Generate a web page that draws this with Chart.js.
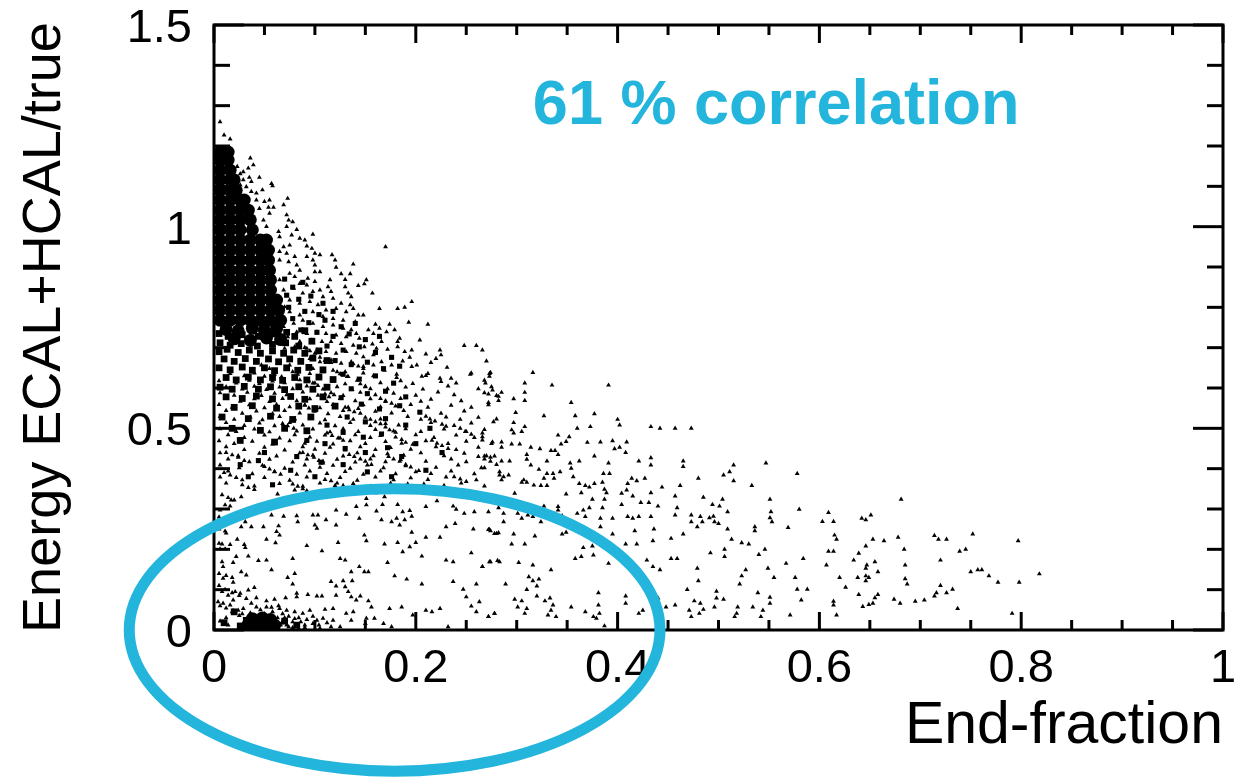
<!DOCTYPE html>
<html>
<head>
<meta charset="utf-8">
<title>End-fraction correlation</title>
<script src="https://cdn.jsdelivr.net/npm/chart.js@4"></script>
<style>
  html, body { margin: 0; padding: 0; background: #fff; }
  canvas { display: block; }
</style>
</head>
<body>
<canvas id="myChart" width="1236" height="778"></canvas>
<script>
var xTickLabels = ['0', '0.2', '0.4', '0.6', '0.8', '1'];
var yTickLabels = ['0', '0.5', '1', '1.5'];
var xTitle = 'End-fraction';
var yTitle = 'Energy ECAL+HCAL/true';
var noteText = '61 % correlation';

// the solid part of the blob, too dense to read point by point
var corePoints = [
[.006,1.185],[.014,1.185],[.006,1.165],[.014,1.165],[.006,1.14],[.016,1.14],[.006,1.116],[.016,1.116],[.02,1.116],
[.006,1.09],[.016,1.09],[.022,1.09],[.006,1.066],[.016,1.066],[.026,1.066],[.03,1.066],
[.006,1.041],[.016,1.041],[.026,1.041],[.034,1.041],[.006,1.017],[.016,1.017],[.026,1.017],[.036,1.017],
[.006,.992],[.016,.992],[.026,.992],[.038,.992],[.006,.967],[.016,.967],[.026,.967],[.036,.967],[.046,.967],[.052,.967],
[.006,.942],[.016,.942],[.026,.942],[.036,.942],[.046,.942],[.054,.942],[.006,.917],[.016,.917],[.026,.917],[.036,.917],[.046,.917],[.054,.917],
[.006,.892],[.016,.892],[.026,.892],[.036,.892],[.046,.892],[.055,.892],[.006,.868],[.016,.868],[.026,.868],[.036,.868],[.046,.868],[.056,.868],
[.006,.843],[.016,.843],[.026,.843],[.036,.843],[.046,.843],[.056,.843],[.006,.818],[.016,.818],[.026,.818],[.036,.818],[.046,.818],[.056,.818],[.062,.818],
[.006,.793],[.016,.793],[.026,.793],[.036,.793],[.046,.793],[.056,.793],[.064,.793],[.006,.768],[.016,.768],[.026,.768],[.036,.768],[.046,.768],[.056,.768],[.066,.768],
[.012,.745],[.024,.742],[.038,.748],[.05,.743],[.062,.747],[.02,.722],[.036,.718],[.052,.724],[.066,.72],
[.034,.014],[.043,.012],[.052,.014],[.06,.012],[.038,.028],[.048,.03],[.056,.026]
];

// mottled band under the solid part
var packedPoints = [
[.005,.735],[.014,.728],[.028,.732],[.044,.728],[.058,.734],[.072,.738],[.08,.728],[.09,.742],
[.006,.712],[.016,.706],[.027,.71],[.043,.704],[.058,.708],[.071,.712],[.084,.704],[.097,.716],
[.005,.69],[.013,.696],[.024,.688],[.035,.694],[.046,.686],[.058,.692],[.069,.686],[.079,.694],[.09,.686],[.104,.692],
[.01,.672],[.02,.666],[.031,.673],[.042,.666],[.054,.672],[.064,.665],[.075,.672],[.086,.666],[.098,.674],[.112,.668],
[.005,.65],[.016,.645],[.028,.652],[.038,.644],[.05,.65],[.06,.643],[.072,.65],[.083,.644],[.094,.651],[.108,.645],
[.012,.626],[.022,.62],[.034,.627],[.046,.62],[.058,.626],[.068,.619],[.08,.626],[.092,.62],[.104,.627],[.118,.621],
[.006,.602],[.018,.597],[.03,.604],[.044,.597],[.056,.603],[.07,.596],[.084,.603],[.098,.597],[.112,.602],
[.012,.578],[.028,.574],[.042,.58],[.058,.573],[.076,.579],[.09,.572],[.108,.578],
[.02,.552],[.038,.556],[.062,.55],[.084,.555],[.1,.549],[.12,.555],
[.008,.528],[.034,.524],[.056,.53],[.078,.522],[.096,.528],
[.018,.5],[.046,.495],[.07,.5],[.092,.494],[.026,.47],[.06,.466],
[.032,.024],[.07,.022],[.082,.012],[.026,.01],[.01,.018],[.02,.045]
];

// darker patches to the right of the solid part
var loosePoints = [
[.07,.87],[.078,.85],[.088,.862],[.072,.83],[.084,.82],[.096,.828],[.108,.81],[.074,.8],[.09,.79],[.104,.782],[.118,.79],
[.078,.772],[.094,.762],[.11,.768],[.126,.752],[.14,.76],[.086,.744],[.102,.738],[.118,.728],[.134,.734],[.15,.72],[.164,.728],
[.112,.704],[.128,.694],[.144,.702],[.16,.688],[.176,.676],[.12,.668],[.136,.658],[.152,.664],[.168,.648],[.184,.654],
[.128,.634],[.144,.622],[.16,.63],[.178,.612],[.136,.598],[.152,.586],[.17,.592],[.19,.578],[.126,.576],[.146,.56],[.164,.548],
[.184,.556],[.204,.54],[.132,.528],[.15,.516],[.17,.524],[.19,.508],[.112,.508],[.128,.49],[.148,.478],[.166,.486],[.11,.462],
[.13,.45],[.15,.44],[.172,.452],[.092,.47],[.082,.43],[.106,.416],[.128,.41],[.152,.392],[.076,.396],[.1,.38],[.05,.44],[.044,.42],
[.214,.5],[.2,.462],[.186,.43],[.226,.44],[.21,.396],[.176,.38],[.058,.36],[.026,.41],[.034,.38]
];

// irregular clumps on top of the read-off points
var clumpPoints = [
[.11,.585],[.114,.578],[.119,.583],[.094,.618],[.098,.612],[.103,.606],[.13,.552],[.134,.546],[.139,.541],[.143,.549],
[.155,.522],[.16,.516],[.165,.511],[.17,.503],[.174,.496],[.18,.49],[.186,.472],[.19,.465],[.197,.46],[.145,.61],
[.15,.603],[.155,.598],[.122,.64],[.127,.633],[.132,.628],[.165,.574],[.17,.568],[.176,.562],[.18,.555],[.138,.66],
[.143,.654],[.148,.648],[.105,.676],[.11,.668],[.116,.663],[.09,.7],[.095,.692],[.1,.686],[.078,.64],[.083,.634],
[.09,.557],[.094,.55],[.099,.543],[.068,.512],[.073,.506],[.079,.5],[.112,.488],[.117,.482],[.123,.476],[.128,.47],
[.088,.44],[.093,.434],[.099,.428],[.104,.42],[.108,.414],[.134,.435],[.139,.43],[.145,.424],[.15,.418],[.156,.41],
[.173,.43],[.178,.424],[.184,.418],[.19,.41],[.195,.404],[.203,.395],[.216,.47],[.221,.463],[.226,.457],[.232,.45],
[.21,.53],[.214,.523],[.219,.518],[.226,.51],[.23,.505],[.244,.5],[.249,.492],[.255,.485],[.05,.405],[.055,.399],
[.06,.392],[.066,.386],[.028,.36],[.034,.353],[.04,.348],[.078,.362],[.083,.356],[.088,.35],[.116,.37],[.122,.364],
[.128,.358],[.148,.352],[.154,.346],[.16,.34],[.192,.362],[.197,.356],[.203,.35],[.238,.38],[.244,.374],[.25,.368],
[.262,.43],[.268,.424],[.274,.418],[.28,.41],[.012,.44],[.018,.434],[.024,.428],[.03,.42],[.01,.39],[.016,.384],
[.022,.378],[.008,.335],[.014,.328],[.02,.322],[.005,.28],[.011,.274],[.005,.25],[.012,.24],[.005,.215],[.016,.212],
[.03,.212],[.005,.14],[.012,.135],[.018,.13],[.005,.11],[.011,.1],[.018,.092],[.025,.085],[.032,.078],[.006,.06],
[.012,.054],[.019,.048],[.025,.036],[.006,.022],[.014,.012],[.068,.04],[.074,.034],[.08,.028],[.086,.02],[.092,.026],
[.098,.034],[.104,.012],[.112,.018],[.118,.024],[.058,.045],[.064,.06],[.046,.05],[.05,.04],[.036,.042],[.028,.04],
[.063,.03],[.067,.018],[.072,.012],[.078,.006],[.084,.004],[.09,.006]
];

var fringePoints = [
[.006,1.26],[.01,1.227],[.016,1.217],[.017,1.178],[.036,1.17],[.039,1.153],[.023,1.149],[.034,1.145],[.029,1.136],[.026,1.131],
[.045,1.122],[.035,1.122],[.029,1.116],[.037,1.112],[.057,1.107],[.058,1.101],[.026,1.103],[.032,1.099],[.037,1.087],[.048,1.091],
[.042,1.083],[.073,1.07],[.055,1.066],[.05,1.062],[.069,1.054],[.042,1.066],[.059,1.048],[.045,1.045],[.054,1.048],[.072,1.029],
[.074,1.016],[.078,1.012],[.055,1.033],[.049,1.016],[.072,1],[.052,1],[.082,.993],[.064,.988],[.077,.979],[.098,.981],
[.085,.971],[.09,.967],[.065,.975],[.069,.95],[.075,.954],[.092,.952],[.097,.946],[.1,.934],[.105,.93],[.117,.93],
[.17,.95],[.065,.938],[.072,.934],[.08,.926],[.092,.926],[.098,.917],[.12,.917],[.1,.905],[.121,.899],[.138,.907],
[.065,.917],[.074,.913],[.082,.905],[.085,.892],[.1,.888],[.105,.888],[.126,.883],[.135,.883],[.075,.884],[.065,.868],
[.08,.876],[.093,.872],[.1,.864],[.115,.868],[.13,.869],[.151,.868],[.149,.858],[.143,.854],[.13,.851],[.085,.859],
[.092,.855],[.113,.851],[.116,.839],[.157,.835],[.133,.835],[.136,.826],[.069,.843],[.079,.847],[.088,.835],[.098,.839],
[.105,.843],[.108,.826],[.118,.822],[.196,.814],[.189,.8],[.182,.797],[.164,.797],[.135,.806],[.138,.797],[.126,.81],
[.075,.818],[.085,.81],[.095,.814],[.103,.806],[.07,.801],[.111,.793],[.121,.797],[.131,.789],[.143,.781],[.148,.781],
[.075,.789],[.085,.781],[.098,.789],[.108,.777],[.118,.772],[.128,.768],[.14,.764],[.193,.763],[.212,.758],[.174,.758],
[.16,.758],[.164,.748],[.153,.744],[.171,.739],[.179,.744],[.158,.735],[.184,.723],[.204,.719],[.182,.715],[.166,.715],
[.157,.709],[.141,.735],[.136,.744],[.128,.748],[.118,.756],[.108,.752],[.098,.76],[.088,.768],[.079,.76],[.069,.752],
[.082,.739],[.092,.735],[.102,.739],[.111,.735],[.121,.731],[.131,.727],[.144,.723],[.073,.727],[.085,.715],[.097,.719],
[.107,.715],[.116,.715],[.126,.71],[.138,.706],[.149,.702],[.161,.698],[.172,.696],[.182,.702],[.248,.705],[.26,.705],
[.266,.694],[.224,.694],[.196,.694],[.189,.69],[.21,.684],[.225,.682],[.27,.667],[.22,.673],[.215,.663],[.187,.667],
[.194,.676],[.201,.657],[.196,.653],[.231,.651],[.212,.636],[.206,.629],[.254,.634],[.273,.636],[.235,.624],[.224,.624],
[.181,.626],[.176,.657],[.166,.665],[.158,.682],[.148,.677],[.141,.686],[.131,.69],[.121,.686],[.111,.69],[.102,.694],
[.092,.698],[.08,.702],[.07,.698],[.065,.71],[.095,.673],[.105,.665],[.116,.669],[.126,.661],[.136,.665],[.148,.653],
[.158,.657],[.169,.644],[.13,.64],[.118,.644],[.108,.64],[.098,.648],[.085,.669],[.075,.657],[.065,.661],[.055,.648],[.047,.657]
];

var midPoints = [
[.016,.636],[.03,.63],[.04,.637],[.05,.629],[.06,.634],[.067,.628],[.095,.636],[.105,.63],[.125,.635],[.133,.628],[.148,.637],[.158,.63],[.181,.634],[.21,.631],[.255,.637],[.273,.629],
[.005,.618],[.022,.612],[.035,.619],[.045,.611],[.058,.617],[.07,.613],[.085,.62],[.1,.612],[.118,.617],[.13,.61],[.142,.619],[.165,.613],[.185,.618],[.197,.611],[.225,.616],[.24,.612],[.268,.619],
[.012,.603],[.028,.597],[.04,.604],[.052,.596],[.065,.602],[.078,.598],[.092,.605],[.108,.597],[.122,.603],[.137,.596],[.15,.604],[.172,.598],[.19,.602],[.207,.597],[.232,.605],[.262,.598],[.275,.603],
[.006,.588],[.02,.582],[.033,.589],[.047,.581],[.06,.587],[.072,.583],[.088,.59],[.103,.582],[.116,.588],[.128,.581],[.145,.589],[.16,.583],[.178,.587],[.2,.582],[.222,.59],[.238,.583],[.268,.588],[.28,.581],
[.012,.574],[.026,.567],[.04,.573],[.055,.566],[.068,.574],[.082,.568],[.095,.573],[.112,.566],[.125,.574],[.14,.568],[.155,.573],[.17,.566],[.185,.574],[.205,.567],[.215,.572],[.245,.568],
[.005,.559],[.018,.552],[.035,.558],[.05,.551],[.062,.559],[.075,.553],[.09,.558],[.105,.551],[.118,.559],[.133,.552],[.148,.558],[.165,.553],[.195,.559],[.212,.552],[.235,.557],[.255,.552],[.272,.558],
[.012,.544],[.028,.537],[.042,.543],[.058,.536],[.07,.544],[.085,.538],[.1,.543],[.113,.536],[.128,.544],[.145,.537],[.16,.542],[.176,.538],[.188,.544],[.225,.537],[.248,.543],
[.006,.529],[.02,.522],[.036,.528],[.048,.521],[.065,.529],[.08,.523],[.095,.528],[.11,.521],[.125,.529],[.138,.522],[.15,.527],[.165,.523],[.192,.529],[.205,.522],[.23,.528],[.244,.522],[.262,.527],[.28,.523],
[.012,.514],[.03,.507],[.045,.513],[.06,.506],[.075,.514],[.088,.508],[.105,.513],[.12,.506],[.135,.514],[.155,.507],[.17,.512],[.183,.508],[.215,.514],[.238,.507],[.255,.513],
[.006,.499],[.022,.492],[.04,.498],[.055,.491],[.07,.499],[.082,.493],[.098,.498],[.115,.491],[.128,.499],[.143,.492],[.16,.497],[.178,.493],[.19,.499],[.205,.492],[.228,.498],[.25,.492],[.268,.497],
[.014,.484],[.03,.477],[.05,.483],[.065,.476],[.08,.484],[.095,.478],[.11,.483],[.125,.476],[.14,.484],[.155,.477],[.165,.482],[.18,.478],[.2,.484],[.218,.477],[.24,.483],[.258,.477],
[.005,.469],[.02,.462],[.038,.468],[.058,.461],[.075,.469],[.09,.463],[.102,.468],[.118,.461],[.135,.469],[.15,.462],[.17,.467],[.186,.463],[.21,.469],[.232,.462],[.25,.468],[.275,.462],
[.012,.454],[.03,.447],[.05,.453],[.07,.446],[.088,.454],[.1,.448],[.115,.453],[.13,.446],[.145,.454],[.16,.447],[.175,.452],[.195,.448],[.22,.454],[.24,.447],[.262,.453],
[.006,.439],[.024,.432],[.045,.438],[.062,.431],[.085,.439],[.098,.433],[.11,.438],[.128,.431],[.142,.439],[.158,.432],[.172,.437],[.188,.433],[.205,.439],[.228,.432],[.248,.438],[.27,.432],
[.014,.424],[.035,.417],[.055,.423],[.078,.416],[.092,.424],[.108,.418],[.122,.423],[.14,.416],[.155,.424],[.17,.417],[.185,.422],[.21,.418],[.235,.424],[.25,.417],
[.006,.409],[.025,.402],[.048,.408],[.07,.401],[.09,.409],[.105,.403],[.118,.408],[.135,.401],[.152,.409],[.168,.402],[.19,.407],[.22,.403],[.242,.409],[.265,.402],
[.014,.394],[.038,.387],[.06,.393],[.082,.386],[.095,.394],[.112,.388],[.13,.393],[.148,.386],[.165,.394],[.18,.387],[.2,.392],[.215,.388],[.235,.394],[.258,.387],
[.006,.379],[.028,.372],[.05,.378],[.075,.371],[.092,.379],[.11,.373],[.125,.378],[.142,.371],[.16,.379],[.178,.372],[.195,.377],[.212,.373],[.23,.379],[.26,.372],
[.012,.364],[.04,.357],[.065,.363],[.088,.356],[.105,.364],[.12,.358],[.138,.363],[.155,.356],[.175,.364],[.19,.357],[.208,.362],[.228,.358],[.245,.364],[.268,.357],
[.08,.347],[.092,.345],[.063,.337],[.027,.33],[.017,.322],[.151,.326],[.169,.33],[.141,.306],[.151,.31],[.167,.311],
[.182,.311],[.21,.306],[.221,.32],[.237,.307],[.248,.289],[.258,.293],[.24,.299],[.28,.322],[.011,.31],[.016,.307],
[.006,.297],[.057,.285],[.069,.282],[.082,.283],[.098,.285],[.103,.285],[.121,.297],[.131,.287],[.144,.277],[.161,.295],
[.187,.293],[.194,.296],[.181,.277],[.196,.282],[.184,.26],[.189,.273],[.166,.273],[.176,.268],[.031,.268],[.037,.256],
[.049,.256],[.064,.258],[.083,.268],[.1,.26],[.102,.252],[.111,.273],[.121,.26],[.027,.256],[.011,.245],[.062,.244],
[.065,.235],[.149,.235],[.151,.221],[.196,.242],[.21,.23],[.224,.23],[.23,.256],[.239,.264],[.257,.25],[.273,.249],
[.28,.239],[.023,.225],[.052,.225],[.061,.216],[.008,.213],[.031,.204],[.092,.209],[.123,.217],[.169,.213],[.182,.217],
[.2,.217],[.194,.206],[.187,.194],[.107,.196],[.006,.201],[.011,.201],[.022,.182],[.034,.183],[.044,.172],[.052,.173],
[.078,.177],[.125,.177],[.13,.173],[.172,.167],[.206,.183],[.23,.173],[.237,.169],[.255,.191],[.273,.169],[.281,.172],
[.266,.157],[.008,.169],[.009,.157],[.019,.167],[.027,.144],[.032,.136],[.057,.149],[.08,.14],[.073,.13],[.136,.144],
[.144,.157],[.149,.144],[.153,.144],[.179,.134],[.191,.126],[.009,.128],[.019,.118],[.078,.114],[.116,.12],[.128,.122],
[.121,.109],[.13,.107],[.137,.122],[.206,.114],[.237,.12],[.247,.101],[.26,.114],[.133,.095],[.136,.082],[.145,.084],
[.04,.105],[.042,.08],[.034,.099],[.026,.091],[.014,.086],[.008,.095],[.021,.095],[.082,.091],[.093,.088],[.102,.084],
[.107,.084],[.121,.086],[.06,.076],[.071,.08],[.052,.072],[.082,.082],[.25,.082],[.141,.074],[.153,.072],[.156,.057],
[.174,.053],[.186,.057],[.21,.049],[.216,.045],[.224,.053],[.255,.059],[.26,.045],[.263,.07],[.272,.033],[.278,.041],
[.004,.07],[.009,.066],[.016,.062],[.019,.074],[.024,.049],[.029,.053],[.037,.066],[.042,.057],[.052,.057],[.057,.056],
[.065,.053],[.072,.049],[.08,.045],[.088,.041],[.095,.049],[.11,.051],[.118,.053],[.131,.041],[.138,.045],[.151,.029],
[.159,.029],[.168,.016],[.176,.008],[.15,.016],[.197,.037],[.232,.008],[.136,.024],[.116,.008],[.108,.029],[.102,.024],
[.098,.016],[.105,.004],[.125,.008],[.07,.03],[.078,.02],[.084,.03],[.09,.012],[.066,.012],[.074,.008],[.012,.03],[.018,.045]
];

var tailPoints = [
[.274,.638],[.316,.638],[.269,.612],[.308,.612],[.335,.607],[.391,.607],[.276,.595],[.272,.585],[.285,.589],[.308,.589],
[.282,.579],[.282,.569],[.272,.564],[.297,.573],[.308,.569],[.354,.564],[.299,.539],[.327,.531],[.358,.531],[.377,.536],
[.277,.516],[.297,.514],[.4,.522],[.402,.508],[.308,.504],[.295,.496],[.305,.492],[.297,.488],[.36,.5],[.373,.504],
[.433,.504],[.442,.5],[.457,.5],[.473,.5],[.341,.483],[.352,.479],[.266,.488],[.266,.479],[.266,.471],[.276,.466],
[.285,.466],[.285,.453],[.295,.461],[.303,.461],[.344,.461],[.349,.467],[.37,.465],[.383,.466],[.395,.469],[.409,.466],
[.314,.453],[.323,.449],[.334,.445],[.338,.445],[.341,.435],[.397,.449],[.402,.453],[.408,.44],[.268,.431],[.274,.428],
[.278,.431],[.31,.435],[.31,.423],[.285,.419],[.293,.419],[.33,.419],[.353,.414],[.362,.419],[.377,.431],[.391,.414],
[.421,.419],[.433,.427],[.433,.409],[.465,.419],[.465,.405],[.515,.409],[.547,.414],[.268,.402],[.314,.409],[.354,.401],
[.322,.398],[.283,.392],[.283,.384],[.292,.384],[.287,.38],[.285,.372],[.33,.388],[.336,.388],[.343,.392],[.386,.388],
[.392,.388],[.511,.392],[.505,.384],[.327,.376],[.337,.376],[.356,.38],[.305,.366],[.31,.366],[.307,.372],[.317,.359],
[.324,.358],[.33,.358],[.362,.363],[.368,.358],[.372,.354],[.377,.363],[.385,.366],[.414,.376],[.419,.37],[.427,.376],
[.48,.376],[.515,.37],[.41,.363],[.444,.354],[.462,.358],[.533,.358],[.387,.349],[.389,.34],[.409,.347],[.404,.339],
[.298,.339],[.349,.337],[.364,.34],[.433,.34],[.415,.332],[.457,.332],[.485,.329],[.551,.324],[.504,.324],[.375,.324],
[.387,.324],[.423,.316],[.431,.316],[.404,.311],[.44,.307],[.459,.303],[.494,.311],[.501,.307],[.327,.307],[.341,.306],
[.341,.297],[.385,.303],[.372,.303],[.366,.297],[.272,.293],[.287,.289],[.301,.289],[.282,.303],[.36,.289],[.509,.293],
[.552,.293],[.457,.285],[.473,.285],[.482,.281],[.491,.278],[.495,.282],[.41,.281],[.415,.277],[.421,.281],[.433,.281],
[.395,.277],[.383,.277],[.368,.281],[.345,.283],[.311,.285],[.316,.281],[.305,.277],[.473,.268],[.484,.268],[.496,.268],
[.5,.264],[.551,.278],[.553,.268],[.287,.268],[.324,.268],[.383,.256],[.479,.256],[.509,.25],[.536,.256],[.536,.246],
[.272,.249],[.274,.246],[.282,.241],[.278,.239],[.297,.238],[.318,.233],[.345,.238],[.349,.242],[.395,.238],[.417,.246],
[.436,.25],[.465,.238],[.453,.227],[.513,.225],[.523,.216],[.53,.213],[.435,.221],[.408,.213],[.419,.213],[.295,.213],
[.308,.213],[.366,.204],[.375,.208],[.506,.2],[.546,.2],[.492,.191],[.54,.187],[.506,.182],[.376,.186],[.358,.177],
[.364,.182],[.453,.177],[.459,.177],[.429,.173],[.274,.169],[.283,.169],[.302,.167],[.316,.161],[.266,.157],[.391,.165],
[.435,.157],[.442,.149],[.479,.153],[.334,.149],[.527,.149],[.549,.153],[.523,.134],[.555,.13],[.312,.132],[.316,.122],
[.322,.126],[.289,.114],[.48,.122],[.521,.114],[.32,.109],[.31,.1],[.469,.1],[.381,.092],[.498,.096],[.539,.092],
[.32,.084],[.408,.084],[.498,.079],[.505,.076],[.551,.081],[.298,.076],[.305,.072],[.333,.079],[.328,.072],[.476,.072],
[.482,.066],[.551,.066],[.381,.062],[.408,.066],[.44,.079],[.301,.057],[.336,.062],[.354,.057],[.457,.062],[.448,.057],
[.496,.057],[.519,.057],[.534,.057],[.31,.053],[.334,.049],[.425,.049],[.471,.049],[.485,.051],[.544,.049],[.368,.045],
[.382,.041],[.421,.041],[.481,.041],[.308,.041],[.331,.037],[.278,.041],[.272,.033],[.339,.033],[.376,.033],[.379,.029],
[.473,.033],[.518,.041],[.516,.033],[.542,.033],[.387,.01],
[.578,.388],[.681,.324],[.58,.299],[.609,.291],[.603,.269],[.614,.269],[.642,.277],[.646,.273],[.651,.285],[.569,.254],
[.615,.235],[.617,.225],[.653,.225],[.664,.221],[.678,.23],[.646,.208],[.684,.2],[.714,.234],[.718,.225],[.726,.225],
[.752,.238],[.797,.221],[.609,.195],[.614,.195],[.639,.19],[.739,.195],[.745,.2],[.584,.177],[.567,.165],[.607,.161],
[.634,.173],[.655,.169],[.647,.161],[.646,.153],[.685,.161],[.72,.173],[.658,.144],[.75,.144],[.757,.149],[.761,.149],
[.768,.134],[.818,.139],[.576,.13],[.62,.13],[.638,.13],[.646,.134],[.649,.13],[.646,.122],[.685,.127],[.687,.114],
[.777,.118],[.798,.118],[.626,.106],[.578,.101],[.588,.101],[.72,.11],[.732,.101],[.716,.092],[.714,.084],[.726,.092],
[.639,.088],[.658,.088],[.655,.08],[.582,.074],[.614,.071],[.614,.062],[.674,.076],[.68,.066],[.695,.071],[.704,.074],
[.653,.066],[.649,.063],[.643,.058],[.737,.053],[.571,.037],[.617,.037],[.791,.041]
];

function toXY(points) {
  return points.map(function (p) {
    return { x: p[0], y: p[1] };
  });
}

function scatterSet(points, style, radius) {
  return {
    data: toXY(points),
    pointStyle: style,
    pointRadius: radius,
    pointBorderWidth: 0,
    pointBackgroundColor: '#000',
    showLine: false
  };
}

function tickLine(ctx, x1, y1, x2, y2) {
  ctx.beginPath();
  ctx.moveTo(x1, y1);
  ctx.lineTo(x2, y2);
  ctx.stroke();
}

// frame with inward ticks on all four sides, like the original plot
var framePlugin = {
  id: 'frame',
  beforeDatasetsDraw: function (chart) {
    var ctx = chart.ctx;
    var a = chart.chartArea;
    ctx.save();
    ctx.strokeStyle = '#000';
    ctx.lineWidth = 3;
    ctx.strokeRect(a.left, a.top, a.right - a.left, a.bottom - a.top);
    chart.scales.x.ticks.forEach(function (t) {
      var px = chart.scales.x.getPixelForValue(t.value);
      var len = t.label ? 18 : 10;
      tickLine(ctx, px, a.bottom, px, a.bottom - len);
      tickLine(ctx, px, a.top, px, a.top + len);
    });
    chart.scales.y.ticks.forEach(function (t) {
      var py = chart.scales.y.getPixelForValue(t.value);
      var len = t.label ? 30 : 16;
      tickLine(ctx, a.left, py, a.left + len, py);
      tickLine(ctx, a.right, py, a.right - len, py);
    });
    ctx.restore();
  },
  afterDatasetsDraw: function (chart) {
    var ctx = chart.ctx;
    var sx = chart.scales.x;
    var sy = chart.scales.y;
    ctx.save();
    ctx.strokeStyle = '#23b5dc';
    ctx.lineWidth = 11;
    ctx.beginPath();
    ctx.ellipse(sx.getPixelForValue(0.179), sy.getPixelForValue(0),
      sx.getPixelForValue(0.263) - sx.getPixelForValue(0),
      sy.getPixelForValue(0) - sy.getPixelForValue(0.35),
      0, 0, Math.PI * 2);
    ctx.stroke();
    ctx.fillStyle = '#23b5dc';
    ctx.font = 'bold 63px "Liberation Sans", Arial, sans-serif';
    ctx.textBaseline = 'middle';
    ctx.fillText(noteText, sx.getPixelForValue(0.316), sy.getPixelForValue(1.298));
    ctx.restore();
  }
};

var ctx = document.getElementById('myChart');
var myChart = new Chart(ctx, {
  type: 'scatter',
  data: {
    datasets: [
      scatterSet(corePoints, 'circle', 6.5),
      scatterSet(packedPoints, 'rect', 4.8),
      scatterSet(loosePoints, 'rect', 3.6),
      scatterSet(clumpPoints, 'triangle', 2.8),
      scatterSet(fringePoints, 'triangle', 2.8),
      scatterSet(midPoints, 'triangle', 2.8),
      scatterSet(tailPoints, 'triangle', 2.8)
    ]
  },
  options: {
    responsive: false,
    animation: false,
    layout: { padding: { top: 25, right: 13, left: 0, bottom: 0 } },
    plugins: { legend: { display: false }, tooltip: { enabled: false } },
    scales: {
      x: {
        type: 'linear',
        min: 0,
        max: 1,
        grid: { display: false },
        border: { display: false },
        afterFit: function (scale) {
          scale.height = 148;
          scale.paddingLeft = 0;
          scale.paddingRight = 0;
        },
        ticks: {
          stepSize: 0.05,
          autoSkip: false,
          maxRotation: 0,
          padding: 3,
          color: '#000',
          font: { family: '"Liberation Sans", Arial, sans-serif', size: 47 },
          callback: function (v) {
            return xTickLabels[Math.round(v * 100) / 20] || '';
          }
        },
        title: {
          display: true,
          text: xTitle,
          align: 'end',
          color: '#000',
          padding: { top: 0, bottom: 16 },
          font: { family: '"Liberation Sans", Arial, sans-serif', size: 59 }
        }
      },
      y: {
        type: 'linear',
        min: 0,
        max: 1.5,
        grid: { display: false },
        border: { display: false },
        afterFit: function (scale) {
          scale.width = 214;
          scale.paddingTop = 0;
          scale.paddingBottom = 0;
        },
        ticks: {
          stepSize: 0.1,
          autoSkip: false,
          padding: 14,
          labelOffset: 4,
          color: '#000',
          font: { family: '"Liberation Sans", Arial, sans-serif', size: 47 },
          callback: function (v) {
            return yTickLabels[Math.round(v * 10) / 5] || '';
          }
        },
        title: {
          display: true,
          text: yTitle,
          color: '#000',
          padding: { top: 13, bottom: 0 },
          font: { family: '"Liberation Sans", Arial, sans-serif', size: 54 }
        }
      }
    }
  },
  plugins: [framePlugin]
});
</script>
</body>
</html>
